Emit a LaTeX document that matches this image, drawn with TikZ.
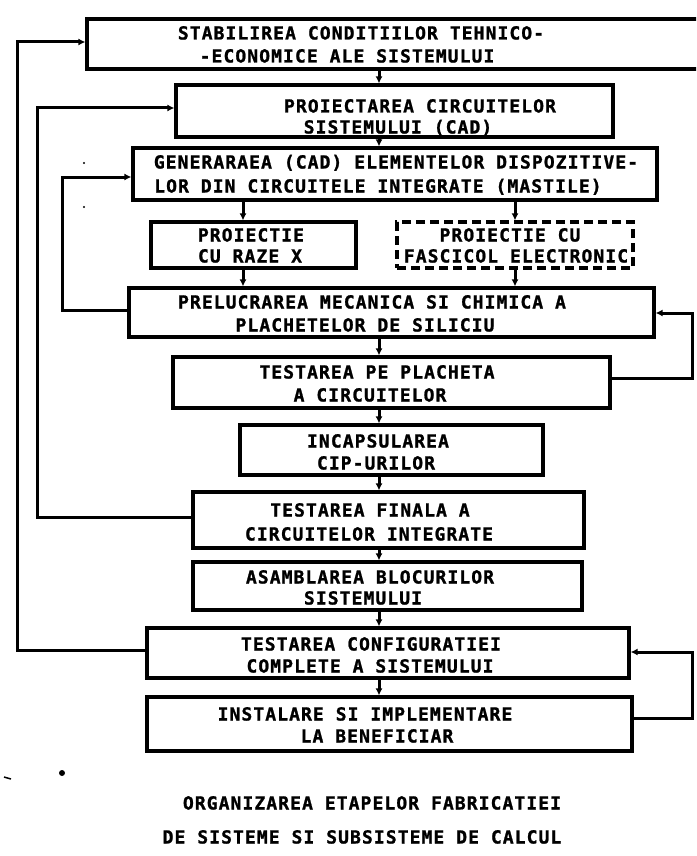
\documentclass[tikz,border=0pt]{standalone}
\usepackage{fontspec}
\usetikzlibrary{arrows.meta}
\newfontfamily\twfont[LetterSpace=6,BoldFeatures={FakeBold=1.2}]{DejaVu Sans Mono}
\begin{document}
\begin{tikzpicture}[x=1pt,y=-1pt,
  box/.style={draw,line width=3.2pt,inner sep=0pt,rectangle},
  dbox/.style={box,dash pattern=on 9pt off 5pt},
  txt/.style={inner sep=0pt,anchor=center,text height=13pt,text depth=0pt,
    font=\twfont\bfseries\fontsize{18}{22}\selectfont},
  arr/.style={line width=3pt,-{Latex[length=7pt,width=7pt]}}]
\clip (0,0) rectangle (696,856);
\fill[white] (0,0) rectangle (696,856);
% boxes
\node[box,minimum width=653pt,minimum height=50pt] (b1) at (413.5,44) {};
\node[box,minimum width=437pt,minimum height=52pt] (b2) at (394.5,111) {};
\node[box,minimum width=524pt,minimum height=52pt] (b3) at (395,174) {};
\node[box,minimum width=205pt,minimum height=46pt] (b4a) at (253.5,245) {};
\node[dbox,minimum width=236pt,minimum height=46pt] (b4b) at (515,245) {};
\node[box,minimum width=525pt,minimum height=49pt] (b5) at (391.5,312.5) {};
\node[box,minimum width=437pt,minimum height=51pt] (b6) at (391.5,382.5) {};
\node[box,minimum width=303pt,minimum height=50pt] (b7) at (391.5,450) {};
\node[box,minimum width=391pt,minimum height=56pt] (b8) at (388.5,520) {};
\node[box,minimum width=389pt,minimum height=48pt] (b9) at (387.5,586) {};
\node[box,minimum width=482pt,minimum height=50pt] (b10) at (388,653) {};
\node[box,minimum width=485pt,minimum height=54pt] (b11) at (389.5,724) {};
% texts
\node[txt] (t1a) at (361,33) {STABILIREA CONDITIILOR TEHNICO-};
\node[txt] (t1b) at (347,56) {-ECONOMICE ALE SISTEMULUI};
\node[txt] (t2a) at (420,106) {PROIECTAREA CIRCUITELOR};
\node[txt] (t2b) at (398,127) {SISTEMULUI (CAD)};
\node[txt] (t3a) at (396,162) {GENERARAEA (CAD) ELEMENTELOR DISPOZITIVE-};
\node[txt] (t3b) at (378,186) {LOR DIN CIRCUITELE INTEGRATE (MASTILE)};
\node[txt] (t4aa) at (251,235) {PROIECTIE};
\node[txt] (t4ab) at (250,256) {CU RAZE X};
\node[txt] (t4ba) at (510,235) {PROIECTIE CU};
\node[txt] (t4bb) at (516,256) {FASCICOL ELECTRONIC};
\node[txt] (t5a) at (372,302) {PRELUCRAREA MECANICA SI CHIMICA A};
\node[txt] (t5b) at (365,325) {PLACHETELOR DE SILICIU};
\node[txt] (t6a) at (377,372) {TESTAREA PE PLACHETA};
\node[txt] (t6b) at (370,395) {A CIRCUITELOR};
\node[txt] (t7a) at (378,441) {INCAPSULAREA};
\node[txt] (t7b) at (376,463) {CIP-URILOR};
\node[txt] (t8a) at (370,510) {TESTAREA FINALA A};
\node[txt] (t8b) at (369,534) {CIRCUITELOR INTEGRATE};
\node[txt] (t9a) at (370,577) {ASAMBLAREA BLOCURILOR};
\node[txt] (t9b) at (363,598) {SISTEMULUI};
\node[txt] (t10a) at (371,644) {TESTAREA CONFIGURATIEI};
\node[txt] (t10b) at (370,666) {COMPLETE A SISTEMULUI};
\node[txt] (t11a) at (365,714) {INSTALARE SI IMPLEMENTARE};
\node[txt] (t11b) at (377,736) {LA BENEFICIAR};
\node[txt] (cap1) at (372,803) {ORGANIZAREA ETAPELOR FABRICATIEI};
\node[txt] (cap2) at (362,837) {DE SISTEME SI SUBSISTEME DE CALCUL};
% x positions of vertical connectors
\coordinate (xm) at (379,0);
\coordinate (xl) at (243,0);
\coordinate (xr) at (515,0);
\draw[arr] (b1.south -| xm) -- (b2.north -| xm);
\draw[arr] (b2.south -| xm) -- (b3.north -| xm);
\draw[arr] (b3.south -| xl) -- (b4a.north -| xl);
\draw[arr] (b3.south -| xr) -- (b4b.north -| xr);
\draw[arr] (b4a.south -| xl) -- (b5.north -| xl);
\draw[arr] (b4b.south -| xr) -- (b5.north -| xr);
\draw[arr] (b5.south -| xm) -- (b6.north -| xm);
\draw[arr] (b6.south -| xm) -- (b7.north -| xm);
\draw[arr] (b7.south -| xm) -- (b8.north -| xm);
\draw[arr] (b8.south -| xm) -- (b9.north -| xm);
\draw[arr] (b9.south -| xm) -- (b10.north -| xm);
\draw[arr] (b10.south -| xm) -- (b11.north -| xm);
% feedback loops
\coordinate (yA1) at (0,650); \coordinate (yA2) at (0,42);
\coordinate (yB1) at (0,517); \coordinate (yB2) at (0,108);
\coordinate (yC1) at (0,310); \coordinate (yC2) at (0,177);
\coordinate (yD1) at (0,378); \coordinate (yD2) at (0,313);
\coordinate (yE1) at (0,718); \coordinate (yE2) at (0,652);
\coordinate (xA) at (17,0); \coordinate (xB) at (37,0); \coordinate (xC) at (62,0);
\coordinate (xD) at (692,0);
\draw[arr] (b10.west |- yA1) -- (xA |- yA1) -- (xA |- yA2) -- (b1.west |- yA2);
\draw[arr] (b8.west |- yB1) -- (xB |- yB1) -- (xB |- yB2) -- (b2.west |- yB2);
\draw[arr] (b5.west |- yC1) -- (xC |- yC1) -- (xC |- yC2) -- (b3.west |- yC2);
\draw[arr] (b6.east |- yD1) -- (xD |- yD1) -- (xD |- yD2) -- (b5.east |- yD2);
\draw[arr] (b11.east |- yE1) -- (xD |- yE1) -- (xD |- yE2) -- (b10.east |- yE2);
% scan specks
\fill (62,773) circle (3pt);
\draw[line width=1.5pt] (4,777) -- (11,779);
\fill (84,163) circle (1.2pt);
\fill (84,207) circle (1.2pt);
\end{tikzpicture}
\end{document}
